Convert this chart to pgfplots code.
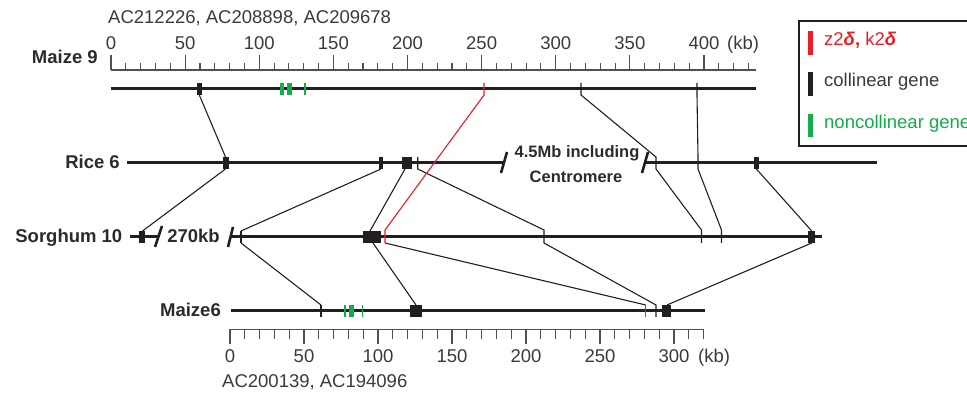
\documentclass[border=0pt]{standalone}
\usepackage{pgfplots}
\pgfplotsset{compat=1.18}
\usepackage{fontspec}
\setmainfont{Liberation Sans}
\definecolor{ink}{HTML}{231F20}
\definecolor{redc}{HTML}{ED1C24}
\definecolor{grn}{HTML}{12AD4B}
\definecolor{txt}{HTML}{3A3A3A}
\definecolor{lab}{HTML}{2B2B2B}
\definecolor{rul}{HTML}{505050}
\newcommand\fs{\fontsize{18.5}{22}\selectfont}
\newcommand\fss{\fontsize{16.5}{20}\selectfont}
\tikzset{T/.style={inner sep=0pt, font=\fs}}
\begin{document}
\begin{tikzpicture}
\begin{axis}[scale only axis, width=967pt, height=395pt,
  xmin=0, xmax=967, ymin=0, ymax=395, y dir=reverse,
  hide axis, clip=false]

% ---------------- rulers ----------------
\addplot[rul, line width=1.5pt] coordinates {(111,70)(756,70)};
\pgfplotsinvokeforeach{0,50,100,150,200,250,300,350,400}{
  \addplot[rul, line width=1.1pt, x filter/.expression={111+1.4825*x}] coordinates {(#1,55)(#1,70)};
  \node[T, anchor=base, txt] at (axis cs:{111+1.4825*#1},50) {#1};
}
\pgfplotsinvokeforeach{10,20,30,40,60,70,80,90,110,120,130,140,160,170,180,190,210,220,230,240,260,270,280,290,310,320,330,340,360,370,380,390,410,420,430}{
  \addplot[rul, line width=1.1pt, x filter/.expression={111+1.4825*x}] coordinates {(#1,63)(#1,70)};
}
\node[T, anchor=base west, txt] at (axis cs:727,50) {(kb)};

\addplot[rul, line width=1.5pt] coordinates {(230,329.5)(704,329.5)};
\pgfplotsinvokeforeach{0,50,100,150,200,250,300}{
  \addplot[rul, line width=1.1pt, x filter/.expression={230+1.48*x}] coordinates {(#1,329.5)(#1,344.5)};
  \node[T, anchor=base, txt] at (axis cs:{230+1.48*#1},362.3) {#1};
}
\pgfplotsinvokeforeach{10,20,30,40,60,70,80,90,110,120,130,140,160,170,180,190,210,220,230,240,260,270,280,290,310,320}{
  \addplot[rul, line width=1.1pt, x filter/.expression={230+1.48*x}] coordinates {(#1,329.5)(#1,339)};
}
\node[T, anchor=base west, txt] at (axis cs:698,362.3) {(kb)};

% ---------------- chromosome lines ----------------
\addplot[ink, line width=3pt] coordinates {(111,89)(756,89)};
\addplot[ink, line width=3pt] coordinates {(127,163)(503,163)};
\addplot[ink, line width=3pt] coordinates {(645,163)(877,163)};
\addplot[ink, line width=3pt] coordinates {(130,237)(158,237)};
\addplot[ink, line width=3pt] coordinates {(231,237)(822,237)};
\addplot[ink, line width=3pt] coordinates {(231,311)(705,311)};
% break slashes
\addplot[ink, line width=2.6pt] coordinates {(501,173)(507,152)};
\addplot[ink, line width=2.6pt] coordinates {(642,173)(648,152)};
\addplot[ink, line width=2.6pt] coordinates {(155,247)(162,226)};
\addplot[ink, line width=2.6pt] coordinates {(228,247)(233,227)};

% ---------------- genes ----------------
% Maize 9
\addplot[ink, line width=5.3pt] coordinates {(199.3,83)(199.3,95)};
\addplot[grn, line width=4pt] coordinates {(282,83)(282,95)};
\addplot[grn, line width=5pt] coordinates {(289,83)(289,95)};
\addplot[grn, line width=1.8pt] coordinates {(305,83)(305,95)};
% Rice 6
\addplot[ink, line width=6.2pt] coordinates {(226,157)(226,169)};
\addplot[ink, line width=3.4pt] coordinates {(381,157)(381,169)};
\addplot[ink, line width=10pt] coordinates {(407.2,157)(407.2,169)};
\addplot[ink, line width=4.7pt] coordinates {(756.4,157)(756.4,169)};
% Sorghum 10
\addplot[ink, line width=6pt] coordinates {(142,231)(142,243)};
\addplot[ink, line width=1.6pt] coordinates {(241,231)(241,243)};
\addplot[ink, line width=17.4pt] coordinates {(372,231)(372,243)};
\addplot[ink, line width=6.6pt] coordinates {(811.7,231)(811.7,243)};
% Maize6
\addplot[ink, line width=1.8pt] coordinates {(321,305)(321,317)};
\addplot[grn, line width=1.7pt] coordinates {(345,305)(345,317)};
\addplot[grn, line width=5pt] coordinates {(351.5,305)(351.5,317)};
\addplot[grn, line width=1.5pt] coordinates {(362.3,305)(362.3,317)};
\addplot[ink, line width=11.7pt] coordinates {(416,305)(416,317)};
\addplot[ink, line width=9pt] coordinates {(666.5,305)(666.5,317)};

% ---------------- connectors ----------------
\addplot[ink, line width=1.1pt] coordinates {(199.3,95)(225.5,157)};
\addplot[ink, line width=1.1pt] coordinates {(581,83)(581,95)(656,157)(656,169)(701.5,230)(701.5,243)};
\addplot[ink, line width=1.1pt] coordinates {(697,83)(697,95)(698,157)(698,169)(721.5,230)(721.5,243)};
\addplot[ink, line width=1.1pt] coordinates {(225.5,169)(142.5,231)};
\addplot[ink, line width=1.1pt] coordinates {(381,169)(241,231)};
\addplot[ink, line width=1.1pt] coordinates {(405,169)(370,231)};
\addplot[ink, line width=1.1pt] coordinates {(417.7,157)(417.7,169)(544,230)(544,243)(656,305)(656,317)};
\addplot[ink, line width=1.1pt] coordinates {(756.4,169)(811.7,231)};
\addplot[ink, line width=1.1pt] coordinates {(241,243)(321,305)};
\addplot[ink, line width=1.1pt] coordinates {(373,243)(416,305)};
\addplot[ink, line width=1.1pt] coordinates {(385,243)(645.7,305)};
\addplot[ink, line width=1.1pt] coordinates {(811.7,243)(667,305)};
\addplot[redc, line width=1.1pt] coordinates {(484,83)(484,95)(385,230)(385,243)};
\addplot[redc, line width=1.1pt] coordinates {(645.7,305)(645.7,317)};

% ---------------- labels ----------------
\node[T, anchor=base west, txt] at (axis cs:108,23.3) {AC212226, AC208898, AC209678};
\node[T, anchor=base west, txt] at (axis cs:222,387.7) {AC200139, AC194096};
\node[T, anchor=base east, lab] at (axis cs:98,64) {\bfseries Maize 9};
\node[T, anchor=base east, lab] at (axis cs:120,169) {\bfseries Rice 6};
\node[T, anchor=base east, lab] at (axis cs:122.5,242.7) {\bfseries Sorghum 10};
\node[T, anchor=base east, lab] at (axis cs:221,316.7) {\bfseries Maize6};
\node[T, anchor=base, lab] at (axis cs:193.5,242.7) {\bfseries 270kb};
\node[T, anchor=base, lab, font=\fss] at (axis cs:577,157.3) {\bfseries 4.5Mb including};
\node[T, anchor=base, lab, font=\fss] at (axis cs:576,182.7) {\bfseries Centromere};

% ---------------- legend ----------------
\draw[ink, line width=2.4pt] (axis cs:799,21) rectangle (axis cs:995,146);
\addplot[redc, line width=5pt] coordinates {(810.5,31)(810.5,55)};
\addplot[ink, line width=5pt] coordinates {(810.5,72)(810.5,96)};
\addplot[grn, line width=5pt] coordinates {(810.5,114)(810.5,137)};
\node[T, anchor=base west, redc] at (axis cs:824,45.7) {z2\textbf{\textit{δ}}\textbf{,} k2\textbf{\textit{δ}}};
\node[T, anchor=base west, txt] at (axis cs:824,86.7) {collinear gene};
\node[T, anchor=base west, grn] at (axis cs:824,128.5) {noncollinear gene};
\end{axis}
\pgfresetboundingbox
\path[use as bounding box] (current axis.south west) rectangle (current axis.north east);
\end{tikzpicture}
\end{document}
